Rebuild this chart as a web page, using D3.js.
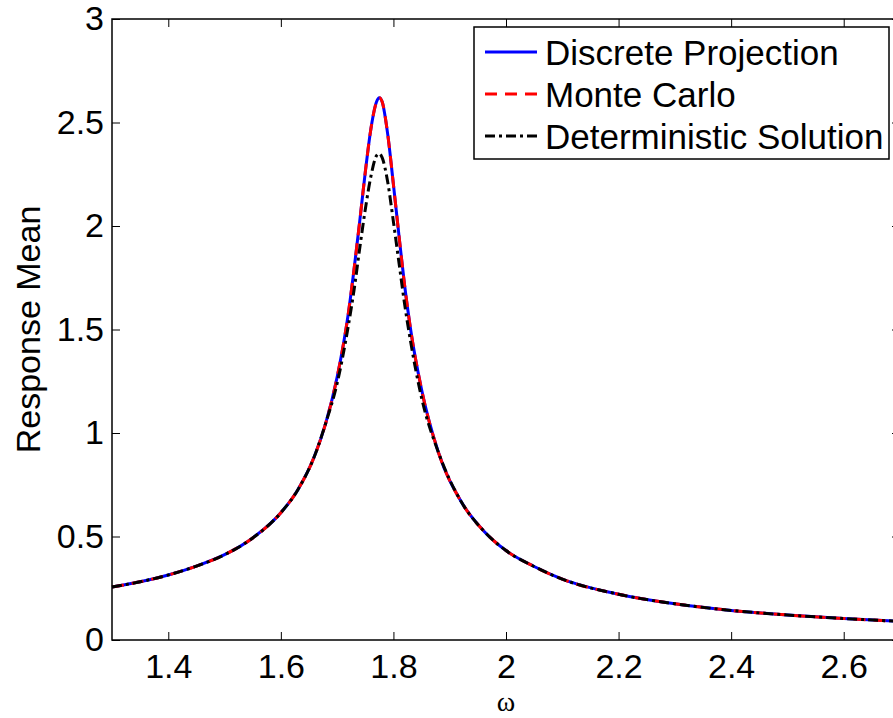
<!DOCTYPE html>
<html>
<head>
<meta charset="utf-8">
<script src="https://cdn.jsdelivr.net/npm/d3@7"></script>
<style>
  body { margin: 0; background: #fff; }
  text { font-family: "Liberation Sans", Arial, Helvetica, sans-serif; }
</style>
</head>
<body>
<div id="chart-area"></div>
<script>

// Data
let omega =      [1.30, 1.35, 1.40, 1.45, 1.50, 1.55, 1.60, 1.63, 1.66, 1.68, 1.70, 1.72, 1.73, 1.74, 1.75, 1.76, 1.77, 1.775, 1.78, 1.79, 1.80, 1.81, 1.82, 1.83, 1.85, 1.88, 1.92, 1.96, 2.00, 2.05, 2.10, 2.20, 2.30, 2.40, 2.50, 2.60, 2.70];
let discrete =   [0.256, 0.281, 0.314, 0.357, 0.412, 0.493, 0.615, 0.725, 0.890, 1.05, 1.27, 1.58, 1.79, 2.02, 2.26, 2.47, 2.60, 2.62, 2.60, 2.44, 2.20, 1.95, 1.71, 1.51, 1.21, 0.906, 0.670, 0.528, 0.432, 0.355, 0.294, 0.221, 0.175, 0.143, 0.121, 0.104, 0.090];
let monteCarlo = [0.256, 0.281, 0.314, 0.357, 0.412, 0.493, 0.615, 0.725, 0.890, 1.05, 1.27, 1.58, 1.79, 2.02, 2.26, 2.47, 2.60, 2.62, 2.60, 2.44, 2.20, 1.95, 1.71, 1.51, 1.21, 0.906, 0.670, 0.528, 0.432, 0.355, 0.294, 0.221, 0.175, 0.143, 0.121, 0.104, 0.090];
let determ =     [0.256, 0.281, 0.314, 0.357, 0.412, 0.493, 0.615, 0.725, 0.890, 1.05, 1.24, 1.52, 1.69, 1.89, 2.08, 2.24, 2.34, 2.35, 2.33, 2.21, 2.02, 1.82, 1.62, 1.45, 1.17, 0.906, 0.670, 0.528, 0.432, 0.355, 0.294, 0.221, 0.175, 0.143, 0.121, 0.104, 0.090];

let xTicks = [1.4, 1.6, 1.8, 2, 2.2, 2.4, 2.6];
let yTicks = [0, 0.5, 1, 1.5, 2, 2.5, 3];
let legendLabels = ["Discrete Projection", "Monte Carlo", "Deterministic Solution"];

// SVG drawing area
let margin = {top: 19, right: -7, bottom: 78, left: 112};

let width = 893 - margin.left - margin.right,
    height = 718 - margin.top - margin.bottom;

let svg = d3.select("#chart-area").append("svg")
    .attr("width", 893)
    .attr("height", 718)
  .append("g")
    .attr("transform", "translate(" + margin.left + "," + margin.top + ")");

// Scales
let x = d3.scaleLinear()
    .domain([1.3, 2.7])
    .range([0, width]);

let y = d3.scaleLinear()
    .domain([0, 3])
    .range([height, 0]);

let tickLen = 8;

// Axes (ticks pointing inward, like matlab)
let xAxis = d3.axisBottom(x).tickValues(xTicks).tickSize(-tickLen).tickPadding(14)
    .tickFormat(d3.format("~g"));
let yAxis = d3.axisLeft(y).tickValues(yTicks).tickSize(-tickLen).tickPadding(8)
    .tickFormat(d3.format("~g"));
let xAxisTop = d3.axisTop(x).tickValues(xTicks).tickSize(-tickLen).tickFormat("");
let yAxisRight = d3.axisRight(y).tickValues(yTicks).tickSize(-tickLen).tickFormat("");

function styleAxis(g) {
    g.select(".domain").remove();
    g.selectAll(".tick line").attr("stroke", "#000").attr("stroke-width", 1);
    g.selectAll(".tick text")
        .attr("fill", "#000")
        .style("font-size", "34px");
}

svg.append("g").attr("transform", "translate(0," + height + ")").call(xAxis).call(styleAxis);
svg.append("g").call(yAxis).call(styleAxis);
svg.append("g").call(xAxisTop).call(styleAxis);
svg.append("g").attr("transform", "translate(" + width + ",0)").call(yAxisRight).call(styleAxis);

svg.selectAll(".tick text").attr("font-family", null);

// Lines
let series = [
    {name: legendLabels[0], values: discrete, color: "#0000ff", dash: null},
    {name: legendLabels[1], values: monteCarlo, color: "#ff0000", dash: "12,8"},
    {name: legendLabels[2], values: determ, color: "#000000", dash: "10,4,3,4"}
];

let line = d3.line()
    .x((d, i) => x(omega[i]))
    .y(d => y(d))
    .curve(d3.curveMonotoneX);

svg.selectAll(".series")
    .data(series)
  .enter().append("path")
    .attr("class", "series")
    .attr("d", d => line(d.values))
    .attr("fill", "none")
    .attr("stroke", d => d.color)
    .attr("stroke-width", 3)
    .attr("stroke-dasharray", d => d.dash);

// Plot box
svg.append("rect")
    .attr("width", width)
    .attr("height", height)
    .attr("fill", "none")
    .attr("stroke", "#000")
    .attr("stroke-width", 1.5);

// Axis titles
svg.append("text")
    .attr("transform", "translate(" + (40 - margin.left) + "," + (height / 2) + ") rotate(-90)")
    .attr("text-anchor", "middle")
    .style("font-size", "34px")
    .text("Response Mean");

svg.append("text")
    .attr("x", x(2))
    .attr("y", 711 - margin.top)
    .attr("text-anchor", "middle")
    .style("font-family", "'Liberation Serif', 'DejaVu Serif', serif")
    .style("font-size", "28px")
    .text("ω");

// Legend
let legend = svg.append("g")
    .attr("transform", "translate(" + (474 - margin.left) + "," + (27 - margin.top) + ")");

legend.append("rect")
    .attr("width", 415)
    .attr("height", 132)
    .attr("fill", "#fff")
    .attr("stroke", "#000")
    .attr("stroke-width", 1.5);

let rows = legend.selectAll(".legend-row")
    .data(series)
  .enter().append("g")
    .attr("class", "legend-row")
    .attr("transform", (d, i) => "translate(0," + (25 + i * 42) + ")");

rows.append("line")
    .attr("x1", 11)
    .attr("x2", 63)
    .attr("stroke", d => d.color)
    .attr("stroke-width", 3)
    .attr("stroke-dasharray", d => d.dash);

rows.append("text")
    .attr("x", 71)
    .attr("dy", "0.36em")
    .style("font-size", "35px")
    .text(d => d.name);

</script>
</body>
</html>
